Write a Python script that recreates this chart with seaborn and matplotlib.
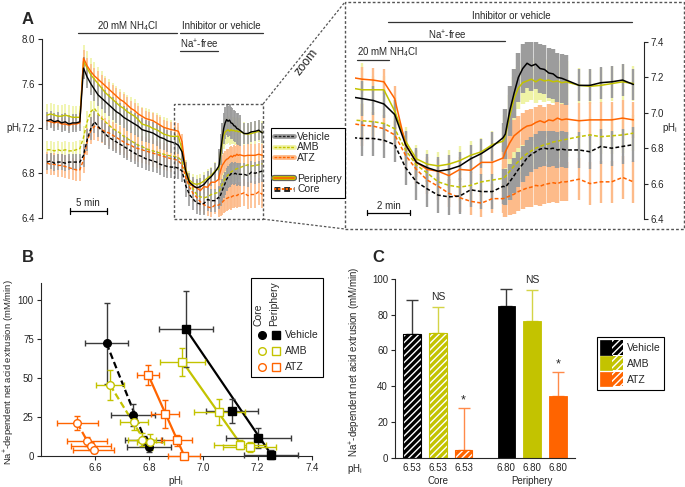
import numpy as np
import pandas as pd
import matplotlib
matplotlib.use("Agg")
import matplotlib.pyplot as plt
import seaborn as sns
from matplotlib.lines import Line2D
from matplotlib.patches import Rectangle, Patch
from matplotlib.legend_handler import HandlerTuple
import matplotlib.transforms as mtrans

# ---------------- data: panel A (pHi time courses, min) ----------------
t_coarse = np.arange(0, 24.0, 0.5)              # 0 .. 23.5
t_dense = np.round(np.arange(23.6, 26.5, 0.2), 1)  # fast sampling after Na+ re-addition
t_late = np.arange(27.0, 30.0, 0.5)
time = np.concatenate([t_coarse, t_dense, t_late])
phase_len = [10, 25, 13, 15, 6]   # baseline, NH4Cl, Na-free, recovery (dense), recovery (late)

veh_per = [7.27, 7.28, 7.26, 7.27, 7.25, 7.26, 7.24, 7.25, 7.25, 7.26,
           7.74, 7.66, 7.60, 7.55, 7.50, 7.47, 7.44, 7.41, 7.38, 7.35, 7.33, 7.30, 7.28,
           7.26, 7.24, 7.22, 7.19, 7.18, 7.17, 7.16, 7.14, 7.12, 7.11, 7.09, 7.08,
           7.07, 7.05, 6.99, 6.82, 6.72, 6.69, 6.67, 6.68, 6.70, 6.74, 6.77, 6.81, 6.86,
           6.88, 7.01, 7.11, 7.20, 7.25, 7.28, 7.265, 7.275, 7.25, 7.245, 7.225, 7.22, 7.20, 7.195, 7.185,
           7.155, 7.155, 7.17, 7.175, 7.185, 7.16]
amb_per = [7.32, 7.33, 7.32, 7.31, 7.31, 7.32, 7.31, 7.30, 7.30, 7.30,
           7.80, 7.74, 7.68, 7.64, 7.60, 7.56, 7.52, 7.49, 7.46, 7.43, 7.40, 7.38, 7.35,
           7.33, 7.31, 7.28, 7.24, 7.23, 7.22, 7.20, 7.19, 7.17, 7.15, 7.14, 7.13,
           7.13, 7.13, 7.01, 6.84, 6.74, 6.71, 6.70, 6.71, 6.73, 6.76, 6.78, 6.82, 6.84,
           6.87, 6.98, 7.08, 7.14, 7.17, 7.18, 7.19, 7.175, 7.19, 7.18, 7.185, 7.175, 7.18, 7.17, 7.175,
           7.155, 7.15, 7.155, 7.165, 7.175, 7.165]
atz_per = [7.27, 7.26, 7.25, 7.26, 7.24, 7.24, 7.23, 7.24, 7.24, 7.25,
           7.83, 7.76, 7.71, 7.67, 7.64, 7.61, 7.58, 7.55, 7.52, 7.49, 7.46, 7.44, 7.41,
           7.38, 7.36, 7.33, 7.31, 7.29, 7.28, 7.27, 7.25, 7.23, 7.21, 7.20, 7.19,
           7.185, 7.175, 7.08, 6.82, 6.72, 6.68, 6.67, 6.645, 6.68, 6.675, 6.72, 6.72, 6.745,
           6.78, 6.83, 6.87, 6.89, 6.91, 6.925, 6.93, 6.945, 6.955, 6.945, 6.96, 6.955, 6.97, 6.96, 6.965,
           6.955, 6.96, 6.96, 6.96, 6.97, 6.96]
veh_core = [6.90, 6.91, 6.89, 6.90, 6.90, 6.89, 6.90, 6.90, 6.90, 6.90,
            6.96, 7.10, 7.20, 7.26, 7.22, 7.18, 7.15, 7.12, 7.10, 7.08, 7.06, 7.04, 7.02,
            7.00, 6.98, 6.96, 6.95, 6.93, 6.92, 6.91, 6.90, 6.88, 6.87, 6.86, 6.855,
            6.855, 6.845, 6.82, 6.69, 6.61, 6.57, 6.535, 6.525, 6.53, 6.565, 6.555, 6.555, 6.585,
            6.58, 6.61, 6.645, 6.68, 6.71, 6.745, 6.765, 6.78, 6.795, 6.80, 6.795, 6.80, 6.79, 6.795, 6.79,
            6.79, 6.78, 6.81, 6.80, 6.81, 6.82]
amb_core = [7.01, 7.01, 7.00, 7.01, 7.00, 7.01, 7.00, 7.00, 7.01, 7.02,
            7.12, 7.26, 7.35, 7.38, 7.33, 7.29, 7.26, 7.23, 7.20, 7.18, 7.16, 7.13, 7.11,
            7.09, 7.07, 7.05, 7.04, 7.02, 7.01, 7.00, 6.99, 6.98, 6.97, 6.96, 6.955,
            6.95, 6.94, 6.91, 6.79, 6.705, 6.66, 6.61, 6.59, 6.58, 6.59, 6.61, 6.62, 6.63,
            6.64, 6.67, 6.70, 6.725, 6.75, 6.77, 6.785, 6.80, 6.81, 6.82, 6.825, 6.835, 6.84, 6.845, 6.85,
            6.865, 6.875, 6.865, 6.87, 6.875, 6.885]
atz_core = [6.89, 6.88, 6.88, 6.87, 6.87, 6.86, 6.85, 6.84, 6.83, 6.83,
            6.92, 7.08, 7.18, 7.22, 7.21, 7.19, 7.17, 7.16, 7.14, 7.12, 7.10, 7.08, 7.06,
            7.05, 7.03, 7.02, 7.01, 7.00, 6.99, 6.98, 6.97, 6.96, 6.95, 6.94, 6.93,
            6.925, 6.91, 6.875, 6.76, 6.68, 6.62, 6.585, 6.545, 6.52, 6.50, 6.49, 6.515, 6.515,
            6.52, 6.53, 6.54, 6.555, 6.565, 6.575, 6.58, 6.59, 6.585, 6.595, 6.60, 6.605, 6.60, 6.61, 6.61,
            6.625, 6.60, 6.61, 6.61, 6.635, 6.61]

# SEM per phase
sem_veh_per = [0.08, 0.10, 0.08, 0.14, 0.09]
sem_amb_per = [0.10, 0.15, 0.08, 0.12, 0.10]
sem_atz_per = [0.05, 0.07, 0.07, 0.09, 0.10]
sem_veh_core = [0.07, 0.10, 0.10, 0.10, 0.10]
sem_amb_core = [0.08, 0.10, 0.08, 0.10, 0.10]
sem_atz_core = [0.10, 0.12, 0.08, 0.11, 0.12]

# ---------------- data: panel B ----------------
b_veh_core_ph = [6.643, 6.74, 6.78, 6.80]
b_veh_core_rate = [72.3, 26.4, 10.0, 5.5]
b_veh_core_xerr = [0.078, 0.082, 0.068, 0.08]
b_veh_core_yerr = [26.0, 7.0, 3.0, 3.0]
b_amb_core_ph = [6.656, 6.744, 6.775, 6.805]
b_amb_core_rate = [45.5, 21.5, 10.4, 8.9]
b_amb_core_xerr = [0.052, 0.053, 0.052, 0.05]
b_amb_core_yerr = [9.6, 5.0, 4.0, 5.0]
b_atz_core_ph = [6.535, 6.57, 6.585, 6.595]
b_atz_core_rate = [21.0, 9.3, 6.5, 4.0]
b_atz_core_xerr = [0.076, 0.074, 0.075, 0.074]
b_atz_core_yerr = [4.5, 3.0, 2.5, 2.5]
b_veh_per_ph = [6.936, 7.105, 7.203, 7.25]
b_veh_per_rate = [81.5, 29.0, 11.5, 0.8]
b_veh_per_xerr = [0.098, 0.095, 0.12, 0.10]
b_veh_per_yerr = [24.5, 7.8, 6.5, 3.0]
b_amb_per_ph = [6.923, 7.059, 7.135, 7.172]
b_amb_per_rate = [60.6, 28.1, 7.2, 5.7]
b_amb_per_xerr = [0.082, 0.095, 0.097, 0.098]
b_amb_per_yerr = [9.0, 8.5, 3.0, 3.0]
b_atz_per_ph = [6.797, 6.859, 6.902, 6.929]
b_atz_per_rate = [51.9, 26.6, 10.0, -0.2]
b_atz_per_xerr = [0.04, 0.051, 0.057, 0.058]
b_atz_per_yerr = [6.5, 9.0, 3.5, 2.0]
# regression lines (end points)
fit_veh_core = ([6.643, 6.80], [72.3, 3.6])
fit_amb_core = ([6.656, 6.775], [45.5, 12.0])
fit_atz_core = ([6.535, 6.575], [21.0, 8.5])
fit_veh_per = ([6.936, 7.252], [81.5, 0.4])
fit_amb_per = ([6.923, 7.14], [60.6, 7.0])
fit_atz_per = ([6.797, 6.929], [51.9, 0.3])

# ---------------- data: panel C ----------------
c_groups = ["Core", "Core", "Core", "Periphery", "Periphery", "Periphery"]
c_treat = ["Vehicle", "AMB", "ATZ", "Vehicle", "AMB", "ATZ"]
c_rate = [69.0, 70.0, 4.1, 85.1, 76.5, 34.5]
c_sem = [19.2, 14.5, 23.9, 9.5, 17.4, 13.7]
c_ph_labels = ["6.53", "6.53", "6.53", "6.80", "6.80", "6.80"]
c_sig = ["", "NS", "*", "", "NS", "*"]

# ---------------- style ----------------
sns.set_style("ticks")
plt.rcParams["font.family"] = ["Liberation Sans", "DejaVu Sans"]
plt.rcParams["axes.linewidth"] = 0.8
plt.rcParams["hatch.linewidth"] = 1.0
plt.rcParams["xtick.major.width"] = 0.8
plt.rcParams["ytick.major.width"] = 0.8

BLACK, AMB, ATZ = "#000000", "#c3c300", "#ff6400"
E_GRAY, E_YEL, E_ORG = "#9c9c9c", "#eff3a6", "#fdbb8a"
FS = 7

W, H = 685, 487
fig = plt.figure(figsize=(W / 100, H / 100), dpi=100)


def rect(x0, y0, x1, y1):
    return [x0 / W, 1 - y1 / H, (x1 - x0) / W, (y1 - y0) / H]


def fpt(x, y):
    return (x / W, 1 - y / H)


def expand(sem):
    return np.repeat(sem, phase_len)


traces = [
    # values, sem, line colour, error colour, dashed
    (amb_per, sem_amb_per, AMB, E_YEL, False),
    (amb_core, sem_amb_core, AMB, E_YEL, True),
    (atz_per, sem_atz_per, ATZ, E_ORG, False),
    (atz_core, sem_atz_core, ATZ, E_ORG, True),
    (veh_per, sem_veh_per, BLACK, E_GRAY, False),
    (veh_core, sem_veh_core, BLACK, E_GRAY, True),
]
dense = np.zeros(len(time), dtype=bool)
dense[48:63] = True

ax_a = fig.add_axes(rect(42, 39, 265, 218))
ax_z = fig.add_axes(rect(355, 42, 644, 219))

for ax, elw, elw_d, lw in [(ax_a, 1.2, 1.3, 1.0), (ax_z, 1.7, 3.2, 1.1)]:
    for vals, sem, col, ecol, dashed in traces:
        v = np.asarray(vals)
        e = expand(sem)
        ax.errorbar(time[~dense], v[~dense], yerr=e[~dense], fmt="none", ecolor=ecol,
                    elinewidth=elw, capsize=0, zorder=1)
        ax.errorbar(time[dense], v[dense], yerr=e[dense], fmt="none", ecolor=ecol,
                    elinewidth=elw_d, capsize=0, zorder=1)
    for vals, sem, col, ecol, dashed in traces:
        sns.lineplot(x=time, y=vals, color=col, lw=lw, estimator=None, sort=False,
                     linestyle=(0, (2.5, 1.5)) if dashed else "-", ax=ax, zorder=3)

# overview axis
ax_a.set_xlim(-0.685, 29.86)
ax_a.set_ylim(6.4, 8.0)
ax_a.set_yticks([6.4, 6.8, 7.2, 7.6, 8.0])
ax_a.set_yticklabels(["6.4", "6.8", "7.2", "7.6", "8.0"], fontsize=FS)
ax_a.set_xticks([])
for s in ["top", "right", "bottom"]:
    ax_a.spines[s].set_visible(False)
ax_a.tick_params(axis="y", length=3, pad=2)
ax_a.set_xlabel("")
ax_a.set_ylabel("")
fig.text(*fpt(14, 128), "pH$_\\mathregular{i}$", fontsize=FS, ha="center", va="center")

kw = dict(color="#333333", lw=0.9, clip_on=False)
ax_a.plot([4.25, 17.8], [8.054, 8.054], **kw)
ax_a.text(11.0, 8.116, "20 mM NH$_\\mathregular{4}$Cl", fontsize=FS, ha="center", va="center")
ax_a.plot([18.2, 29.6], [8.054, 8.054], **kw)
ax_a.text(23.9, 8.116, "Inhibitor or vehicle", fontsize=FS, ha="center", va="center")
ax_a.plot([18.2, 23.4], [7.893, 7.893], **kw)
ax_a.text(20.8, 7.952, "Na$^\\mathregular{+}$-free", fontsize=FS, ha="center", va="center")
ax_a.plot([3.15, 8.15], [6.464, 6.464], color="black", lw=0.9, clip_on=False)
ax_a.plot([3.15, 3.15], [6.44, 6.49], color="black", lw=0.9, clip_on=False)
ax_a.plot([8.15, 8.15], [6.44, 6.49], color="black", lw=0.9, clip_on=False)
ax_a.text(5.65, 6.53, "5 min", fontsize=FS, ha="center", va="center")

# zoom box on the overview
box_t, box_ph = (17.4, 29.6), (6.39, 7.42)
ax_a.add_patch(Rectangle((box_t[0], box_ph[0]), box_t[1] - box_t[0], box_ph[1] - box_ph[0],
                         fill=False, ec="#555555", lw=1.0, ls=(0, (2, 1.5)), clip_on=False, zorder=5))

# zoom axis
ax_z.set_xlim(16.67, 29.99)
ax_z.set_ylim(6.4, 7.4)
ax_z.yaxis.tick_right()
ax_z.set_yticks(np.round(np.arange(6.4, 7.41, 0.2), 1))
ax_z.set_yticklabels(["6.4", "6.6", "6.8", "7.0", "7.2", "7.4"], fontsize=FS)
ax_z.set_xticks([])
for s in ["top", "left", "bottom"]:
    ax_z.spines[s].set_visible(False)
ax_z.tick_params(axis="y", length=3, pad=2)
ax_z.set_xlabel("")
ax_z.set_ylabel("")
fig.text(*fpt(670, 128), "pH$_\\mathregular{i}$", fontsize=FS, ha="center", va="center")
ax_z.plot([18.2, 29.44], [7.513, 7.513], **kw)
ax_z.text(23.86, 7.547, "Inhibitor or vehicle", fontsize=FS, ha="center", va="center")
ax_z.plot([18.2, 23.58], [7.406, 7.406], **kw)
ax_z.text(20.9, 7.44, "Na$^\\mathregular{+}$-free", fontsize=FS, ha="center", va="center")
ax_z.plot([16.76, 18.24], [7.298, 7.298], **kw)
ax_z.text(16.76, 7.343, "20 mM NH$_\\mathregular{4}$Cl", fontsize=FS, ha="left", va="center")
ax_z.plot([17.21, 19.21], [6.436, 6.436], color="black", lw=0.9, clip_on=False)
ax_z.plot([17.21, 17.21], [6.42, 6.452], color="black", lw=0.9, clip_on=False)
ax_z.plot([19.21, 19.21], [6.42, 6.452], color="black", lw=0.9, clip_on=False)
ax_z.text(18.21, 6.473, "2 min", fontsize=FS, ha="center", va="center")

# outer dotted frame of the zoom and connectors
fig.add_artist(Rectangle(fpt(345, 229), 339 / W, 227 / H, transform=fig.transFigure,
                         fill=False, ec="#555555", lw=1.0, ls=(0, (2, 1.5))))
inv = fig.transFigure.inverted()
c_top = inv.transform(ax_a.transData.transform((box_t[1], box_ph[1])))
c_bot = inv.transform(ax_a.transData.transform((box_t[1], box_ph[0])))
fig.add_artist(Line2D([c_top[0], 345 / W], [c_top[1], 1 - 2 / H], transform=fig.transFigure,
                      color="#555555", lw=0.9, ls=(0, (2, 1.5))))
fig.add_artist(Line2D([c_bot[0], 345 / W], [c_bot[1], 1 - 229 / H], transform=fig.transFigure,
                      color="#555555", lw=0.9, ls=(0, (2, 1.5))))
fig.text(*fpt(306, 62), "zoom", fontsize=9, rotation=52, ha="center", va="center")

# legend of A
dash = (0, (2, 1))
h_a = [
    (Line2D([], [], color=E_GRAY, lw=3.5), Line2D([], [], color="#222222", lw=1, ls=dash)),
    (Line2D([], [], color=E_YEL, lw=3.5), Line2D([], [], color=AMB, lw=1, ls=dash)),
    (Line2D([], [], color=E_ORG, lw=3.5), Line2D([], [], color=ATZ, lw=1, ls=dash)),
    Line2D([], [], color="none"),
    (Line2D([], [], color="#666666", lw=4.5), Line2D([], [], color=AMB, lw=2.8),
     Line2D([], [], color=ATZ, lw=1.2)),
    (Line2D([], [], color="#222222", lw=3.5, ls=(0, (1.2, 0.8))),
     Line2D([], [], color=ATZ, lw=1.4, ls=(0, (1.2, 0.8)))),
]
leg_a = fig.legend(h_a, ["Vehicle", "AMB", "ATZ", "", "Periphery", "Core"],
                   loc="upper left", bbox_to_anchor=fpt(270.5, 128), fontsize=FS + 0.5,
                   frameon=True, fancybox=False, edgecolor="black", framealpha=1,
                   handlelength=1.9, handletextpad=0.3, labelspacing=0.05, borderpad=0.35,
                   borderaxespad=0, handler_map={tuple: HandlerTuple(ndivide=1)})
leg_a.get_frame().set_linewidth(0.8)

fig.text(*fpt(28, 19), "A", fontsize=12, fontweight="bold", ha="center", va="center")
fig.text(*fpt(28, 258), "B", fontsize=12, fontweight="bold", ha="center", va="center")
fig.text(*fpt(378, 258), "C", fontsize=12, fontweight="bold", ha="center", va="center")

# ---------------- panel B ----------------
ax_b = fig.add_axes(rect(40.7, 283.3, 311.7, 465.1))
b_series = [
    (fit_veh_core, b_veh_core_ph, b_veh_core_rate, b_veh_core_xerr, b_veh_core_yerr, BLACK, "#3a3a3a", "o", True, True),
    (fit_amb_core, b_amb_core_ph, b_amb_core_rate, b_amb_core_xerr, b_amb_core_yerr, AMB, AMB, "o", False, True),
    (fit_atz_core, b_atz_core_ph, b_atz_core_rate, b_atz_core_xerr, b_atz_core_yerr, ATZ, ATZ, "o", False, True),
    (fit_veh_per, b_veh_per_ph, b_veh_per_rate, b_veh_per_xerr, b_veh_per_yerr, BLACK, "#3a3a3a", "s", True, False),
    (fit_amb_per, b_amb_per_ph, b_amb_per_rate, b_amb_per_xerr, b_amb_per_yerr, AMB, AMB, "s", False, False),
    (fit_atz_per, b_atz_per_ph, b_atz_per_rate, b_atz_per_xerr, b_atz_per_yerr, ATZ, ATZ, "s", False, False),
]
for fit, px, py, xe, ye, col, ecol, mk, filled, dashed in b_series:
    sns.lineplot(x=fit[0], y=fit[1], color=col, lw=1.6, estimator=None, sort=False,
                 linestyle=(0, (3, 1.5)) if dashed else "-", ax=ax_b, zorder=2)
for fit, px, py, xe, ye, col, ecol, mk, filled, dashed in b_series:
    ax_b.errorbar(px, py, xerr=xe, yerr=ye, fmt=mk, ms=6 if mk == "s" else 5.5,
                  mfc=col if filled else "white", mec=col, mew=1.0, ecolor=ecol,
                  elinewidth=1.0, capsize=2, capthick=1.0, zorder=3, clip_on=False)
ax_b.set_xlim(6.4, 7.4)
ax_b.set_ylim(-6, 111)
ax_b.spines["bottom"].set_position(("data", 0))
ax_b.spines["left"].set_bounds(0, 111)
for s in ["top", "right"]:
    ax_b.spines[s].set_visible(False)
ax_b.set_xticks([6.6, 6.8, 7.0, 7.2, 7.4])
ax_b.set_xticklabels(["6.6", "6.8", "7.0", "7.2", "7.4"], fontsize=FS)
ax_b.set_yticks([0, 25, 50, 75, 100])
ax_b.set_yticklabels(["0", "25", "50", "75", "100"], fontsize=FS)
ax_b.tick_params(length=3, pad=2)
ax_b.set_xlabel("pH$_\\mathregular{i}$", fontsize=FS)
ax_b.xaxis.set_label_coords(0.5, -0.047)
ax_b.set_ylabel("Na$^\\mathregular{+}$-dependent net acid extrusion (mM/min)", fontsize=6.8)
ax_b.yaxis.set_label_coords(-0.09, 0.51)

# legend of B
fig.add_artist(Rectangle(fpt(250.7, 376.7), 72 / W, 99 / H, transform=fig.transFigure,
                         fill=False, ec="black", lw=0.8))
fig.text(*fpt(259, 326), "Core", rotation=90, fontsize=FS + 0.5, ha="center", va="bottom")
fig.text(*fpt(274, 326), "Periphery", rotation=90, fontsize=FS + 0.5, ha="center", va="bottom")
for yy, col, filled, lab in [(335, BLACK, True, "Vehicle"), (351, AMB, False, "AMB"), (367, ATZ, False, "ATZ")]:
    fc = col if filled else "white"
    fig.add_artist(Line2D([262 / W], [1 - yy / H], marker="o", ms=5.5, mfc=fc, mec=col,
                          mew=1.0, transform=fig.transFigure))
    fig.add_artist(Line2D([276 / W], [1 - yy / H], marker="s", ms=6, mfc=fc, mec=col,
                          mew=1.0, transform=fig.transFigure))
    fig.text(*fpt(285, yy), lab, fontsize=FS + 0.5, ha="left", va="center")

# ---------------- panel C ----------------
ax_c = fig.add_axes(rect(395, 279, 575, 457.7))
c_pos = [0.0, 1.0, 2.0, 3.66, 4.66, 5.66]
c_colors = {"Vehicle": BLACK, "AMB": AMB, "ATZ": ATZ}
c_ecolors = {"Vehicle": "#3a3a3a", "AMB": "#d4d447", "ATZ": "#ff8a4a"}
df_c = pd.DataFrame({"pos": c_pos, "rate": c_rate, "treatment": c_treat, "group": c_groups})
sns.barplot(data=df_c, x="pos", y="rate", hue="treatment", palette=c_colors, native_scale=True,
            dodge=False, width=0.68, errorbar=None, legend=False, saturation=1, ax=ax_c, zorder=2)
for p in ax_c.patches:
    cx = p.get_x() + p.get_width() / 2
    col = p.get_facecolor()
    if cx < 2.5:
        p.set_hatch("/////")
        p.set_edgecolor("white")
        p.set_linewidth(0)
        ax_c.add_patch(Rectangle(p.get_xy(), p.get_width(), p.get_height(), fill=False,
                                 ec=col, lw=0.8, zorder=3))
    else:
        p.set_edgecolor(col)
        p.set_linewidth(0.6)
for x, r, s, tr, sig in zip(c_pos, c_rate, c_sem, c_treat, c_sig):
    ax_c.errorbar([x], [r], yerr=[[0], [s]], fmt="none", ecolor=c_ecolors[tr],
                  elinewidth=1.0, capsize=4, capthick=1.0, zorder=1)
    if sig == "NS":
        ax_c.text(x, r + s + 2.5, sig, fontsize=FS + 0.5, ha="center", va="bottom")
    elif sig == "*":
        ax_c.text(x, r + s + 0.5, sig, fontsize=FS + 2, ha="center", va="bottom")
ax_c.set_xlim(-0.67, 6.33)
ax_c.set_ylim(0, 100)
ax_c.set_yticks([0, 20, 40, 60, 80, 100])
ax_c.set_yticklabels(["0", "20", "40", "60", "80", "100"], fontsize=FS)
ax_c.set_xticks(c_pos)
ax_c.set_xticklabels(c_ph_labels, fontsize=FS)
ax_c.tick_params(axis="x", length=0, pad=4)
ax_c.tick_params(axis="y", length=3, pad=2)
for s in ["top", "right"]:
    ax_c.spines[s].set_visible(False)
ax_c.set_xlabel("")
ax_c.set_ylabel("Na$^\\mathregular{+}$-dependent net acid extrusion (mM/min)", fontsize=FS)
ax_c.yaxis.set_label_coords(-0.178, 0.535)
btr = mtrans.blended_transform_factory(ax_c.transData, ax_c.transAxes)
ax_c.text(1.0, -0.13, "Core", transform=btr, fontsize=FS, ha="center", va="center")
ax_c.text(4.66, -0.13, "Periphery", transform=btr, fontsize=FS, ha="center", va="center")
fig.text(*fpt(355, 469), "pH$_\\mathregular{i}$", fontsize=FS, ha="center", va="center")

h_c = [(Patch(fc=c_colors[k], ec=c_colors[k], lw=0.5),
        Patch(fc=c_colors[k], ec="white", hatch="/////", lw=0)) for k in ["Vehicle", "AMB", "ATZ"]]
leg_c = fig.legend(h_c, ["Vehicle", "AMB", "ATZ"], loc="upper left", bbox_to_anchor=fpt(597, 337),
                   fontsize=FS + 0.5, frameon=True, fancybox=False, edgecolor="black", framealpha=1,
                   handlelength=2.2, handleheight=1.75, handletextpad=0.35, labelspacing=0.15,
                   borderpad=0.3, borderaxespad=0,
                   handler_map={tuple: HandlerTuple(ndivide=None, pad=0.0)})
leg_c.get_frame().set_linewidth(0.8)

fig.savefig("out.png", dpi=100, facecolor="white")
